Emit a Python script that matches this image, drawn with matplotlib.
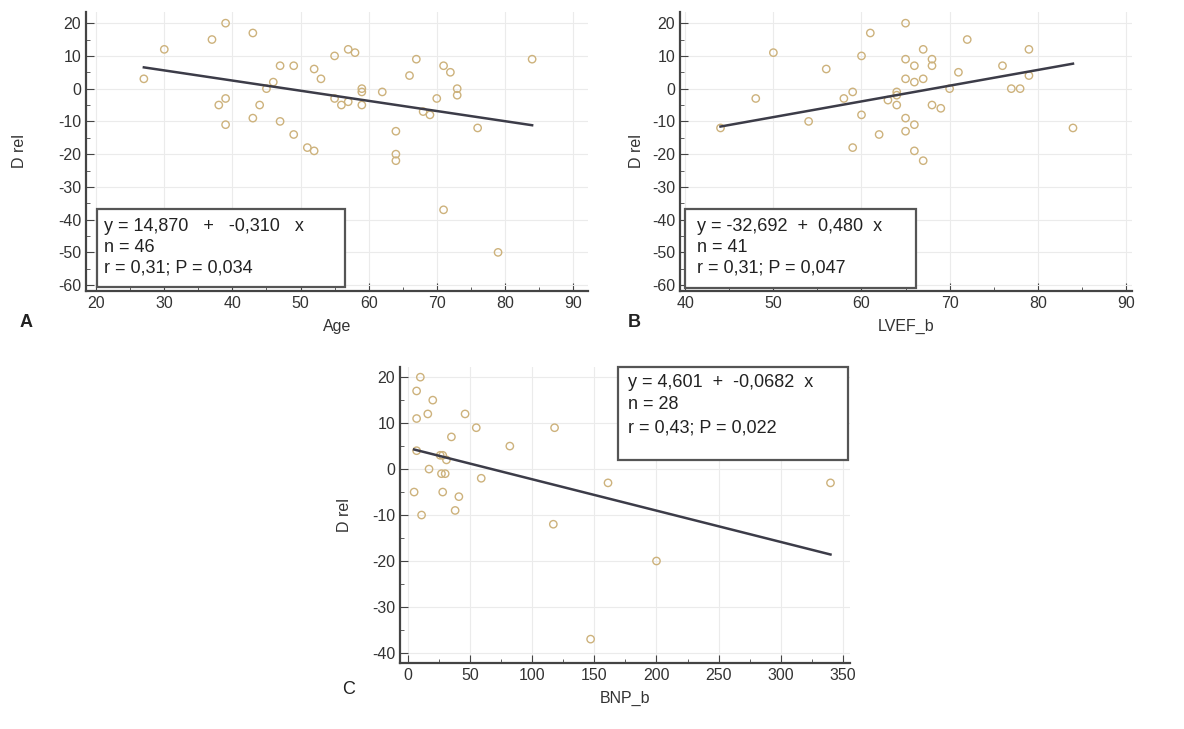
import matplotlib.pyplot as plt
from matplotlib.patches import Rectangle
from matplotlib.ticker import MultipleLocator

# panel A: Age vs D rel
age = [27, 30, 37, 39, 43, 38, 39, 39, 44, 43, 46, 45, 47, 49, 47, 49, 52, 53, 51, 52,
       55, 57, 58, 55, 56, 59, 59, 59, 62, 64, 64, 64, 66, 67, 69, 68, 70, 71, 72, 73,
       73, 71, 76, 79, 84, 57]
drel_a = [3, 12, 15, 20, 17, -5, -3, -11, -5, -9, 2, 0, 7, 7, -10, -14, 6, 3, -18, -19,
          10, 12, 11, -3, -5, 0, -1, -5, -1, -13, -20, -22, 4, 9, -8, -7, -3, 7, 5, 0,
          -2, -37, -12, -50, 9, -4]

# panel B: LVEF_b vs D rel
lvef = [44, 48, 50, 54, 56, 58, 59, 59, 60, 60, 61, 62, 63, 64, 64, 65, 65, 67, 68, 66,
        68, 65, 66, 67, 71, 72, 70, 68, 69, 65, 66, 65, 66, 67, 76, 77, 78, 79, 79, 84, 64]
drel_b = [-12, -3, 11, -10, 6, -3, -1, -18, 10, -8, 17, -14, -3.5, -5, -2, 20, 9, 12, 9, 7,
          7, 3, 2, 3, 5, 15, 0, -5, -6, -9, -11, -13, -19, -22, 7, 0, 0, 12, 4, -12, -1]

# panel C: BNP_b vs D rel
bnp = [10, 7, 7, 20, 16, 35, 46, 55, 82, 118, 7, 26, 31, 17, 27, 30, 5, 28, 41, 11,
       38, 59, 117, 161, 200, 147, 340, 28]
drel_c = [20, 17, 11, 15, 12, 7, 12, 9, 5, 9, 4, 3, 2, 0, -1, -1, -5, -5, -6, -10,
          -9, -2, -12, -3, -20, -37, -3, 3]

fits = [(14.870, -0.310), (-32.692, 0.480), (4.601, -0.0682)]
stats = ["y = 14,870   +   -0,310   x\nn = 46\nr = 0,31; P = 0,034",
         "y = -32,692  +  0,480  x\nn = 41\nr = 0,31; P = 0,047",
         "y = 4,601  +  -0,0682  x\nn = 28\nr = 0,43; P = 0,022"]

plt.rcParams['font.family'] = ['Liberation Sans', 'DejaVu Sans']
plt.rcParams['axes.unicode_minus'] = False

fig = plt.figure(figsize=(11.84, 7.29), dpi=100)

ax_a = fig.add_axes([0.0726, 0.6008, 0.424, 0.3827])
ax_b = fig.add_axes([0.5743, 0.6008, 0.3818, 0.3827])
ax_c = fig.add_axes([0.3378, 0.0905, 0.380, 0.406])

panels = [
    (ax_a, age, drel_a, 'Age', (18.5, 92.2), (-61.8, 23.4), 10, 5, 22),
    (ax_b, lvef, drel_b, 'LVEF_b', (39.4, 90.7), (-61.8, 23.4), 10, 5, 6),
    (ax_c, bnp, drel_c, 'BNP_b', (-6.4, 355.6), (-42.2, 22.2), 50, 25, 14),
]

for (ax, xs, ys, xlab, xl, yl, xmaj, xmin, ypad), (b0, b1) in zip(panels, fits):
    ax.scatter(xs, ys, s=28, facecolors='none', edgecolors='#cdb27c', linewidths=1.0, zorder=3)
    x0, x1 = min(xs), max(xs)
    ax.plot([x0, x1], [b0 + b1 * x0, b0 + b1 * x1], color='#3c3c48', lw=1.8, zorder=4)
    ax.set_xlim(*xl)
    ax.set_ylim(*yl)
    ax.xaxis.set_major_locator(MultipleLocator(xmaj))
    ax.xaxis.set_minor_locator(MultipleLocator(xmin))
    ax.yaxis.set_major_locator(MultipleLocator(10))
    ax.yaxis.set_minor_locator(MultipleLocator(5))
    ax.grid(True, which='major', color='#ebebeb', lw=0.8, zorder=0)
    ax.tick_params(which='both', direction='in', colors='#444444', labelcolor='#333333',
                   labelsize=11.5)
    ax.tick_params(which='major', length=6)
    ax.tick_params(which='minor', length=3)
    for s in ['top', 'right']:
        ax.spines[s].set_visible(False)
    for s in ['left', 'bottom']:
        ax.spines[s].set_color('#444444')
        ax.spines[s].set_linewidth(1.6)
    ax.set_xlabel(xlab, fontsize=11.5, color='#333333', labelpad=6)
    ax.set_ylabel('D rel', fontsize=11.5, color='#333333', labelpad=ypad)

# stats boxes: (axes, rect x0, y0, w, h, text x, text top, line spacing)
boxes = [
    (ax_a, 0.022, 0.014, 0.494, 0.280, 0.036, 0.262, 1.28),
    (ax_b, 0.011, 0.011, 0.511, 0.283, 0.037, 0.262, 1.28),
    (ax_c, 0.484, 0.686, 0.511, 0.314, 0.507, 0.978, 1.45),
]
for (ax, rx, ry, rw, rh, tx, ty, ls), txt in zip(boxes, stats):
    ax.add_patch(Rectangle((rx, ry), rw, rh, transform=ax.transAxes, facecolor='white',
                           edgecolor='#555555', linewidth=1.6, zorder=5, clip_on=False))
    ax.text(tx, ty, txt, transform=ax.transAxes, fontsize=13, color='#222222',
            va='top', ha='left', linespacing=ls, zorder=6)

fig.text(20 / 1184, 1 - 322 / 729, 'A', fontsize=13, fontweight='bold', color='#222222', va='center')
fig.text(628 / 1184, 1 - 322 / 729, 'B', fontsize=13, fontweight='bold', color='#222222', va='center')
fig.text(342 / 1184, 1 - 690 / 729, 'C', fontsize=13, color='#222222', va='center')

fig.savefig('out.png', dpi=100)
